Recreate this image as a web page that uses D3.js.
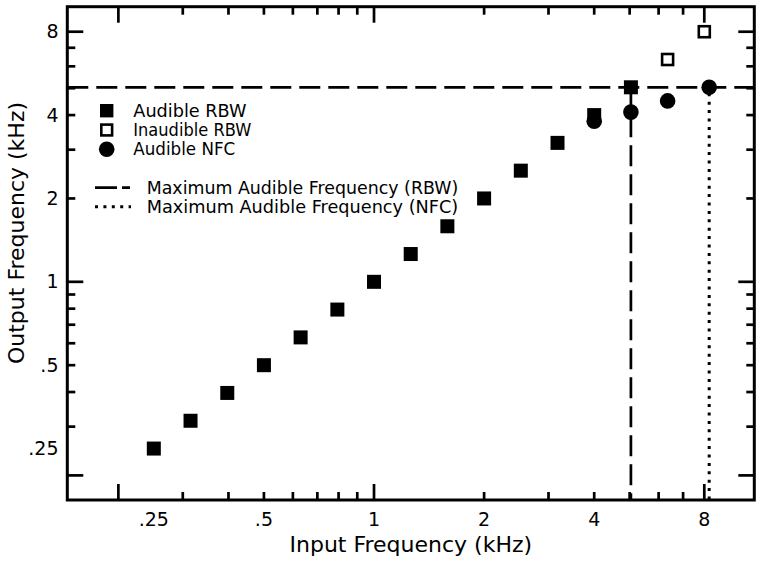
<!DOCTYPE html>
<html><head><meta charset="utf-8">
<script src="https://cdn.jsdelivr.net/npm/d3@7"></script>
<style>
body{margin:0;background:#fff}
svg{display:block}
text{font-family:"DejaVu Sans",sans-serif;fill:#000}
</style>
</head><body>
<svg id="c" width="764" height="562"></svg>
<script>
// ---- data (kHz) ----
const audibleRBWIn  = [0.25,0.315,0.397,0.5,0.63,0.794,1,1.26,1.587,2,2.52,3.175,4,5.04];
const audibleRBWOut = [0.25,0.315,0.397,0.5,0.63,0.794,1,1.26,1.587,2,2.52,3.175,4,5.04];
const inaudibleRBWIn  = [6.35,8];
const inaudibleRBWOut = [6.35,8];
const audibleNFCIn  = [4,5.04,6.35,8.25];
const audibleNFCOut = [3.8,4.1,4.5,5.04];
const maxAudibleOut = 5.04;   // maximum audible output frequency
const maxRBWIn = 5.04;        // RBW input at limit
const maxNFCIn = 8.25;        // NFC input at limit
const tickValues = [0.2,0.3,0.4,0.5,0.6,0.7,0.8,0.9,1,2,3,4,5,6,7,8];
const majorTickValues = [0.2,1,8];
const labelValues = [0.25,0.5,1,2,4,8];
const labelTexts  = [".25",".5","1","2","4","8"];
const xDomain = [0.145,10.96];
const yDomain = [0.163,9.85];
const legendMarkers = ["Audible RBW","Inaudible RBW","Audible NFC"];
const legendLines = ["Maximum Audible Frequency (RBW)","Maximum Audible Frequency (NFC)"];

// ---- layout ----
const L=67.3, R=754.3, T=6.7, B=500;
const svg=d3.select("#c");
const x=d3.scaleLog().domain(xDomain).range([L,R]);
const y=d3.scaleLog().domain(yDomain).range([B,T]);
const SW=2.7, DASH="21 8", DOT="3 5.4";

// reference lines
svg.append("line").attr("x1",L).attr("x2",R).attr("y1",y(maxAudibleOut)).attr("y2",y(maxAudibleOut))
  .attr("stroke","#000").attr("stroke-width",SW).attr("stroke-dasharray",DASH);
svg.append("line").attr("x1",x(maxRBWIn)).attr("x2",x(maxRBWIn)).attr("y1",y(maxAudibleOut)).attr("y2",B)
  .attr("stroke","#000").attr("stroke-width",SW).attr("stroke-dasharray",DASH);
svg.append("line").attr("x1",x(maxNFCIn)).attr("x2",x(maxNFCIn)).attr("y1",y(maxAudibleOut)+6).attr("y2",B)
  .attr("stroke","#000").attr("stroke-width",3).attr("stroke-dasharray",DOT);

// frame + ticks
svg.append("rect").attr("x",L).attr("y",T).attr("width",R-L).attr("height",B-T)
  .attr("fill","none").attr("stroke","#000").attr("stroke-width",3);
const tl=v=>majorTickValues.includes(v)?16:8;
const tg=svg.append("g").attr("stroke","#000").attr("stroke-width",SW);
tickValues.forEach(v=>{
  tg.append("line").attr("x1",x(v)).attr("x2",x(v)).attr("y1",B).attr("y2",B-tl(v));
  tg.append("line").attr("x1",x(v)).attr("x2",x(v)).attr("y1",T).attr("y2",T+tl(v));
  tg.append("line").attr("y1",y(v)).attr("y2",y(v)).attr("x1",L).attr("x2",L+tl(v));
  tg.append("line").attr("y1",y(v)).attr("y2",y(v)).attr("x1",R).attr("x2",R-tl(v));
});
// tick labels
labelValues.forEach((v,i)=>{
  svg.append("text").attr("x",x(v)).attr("y",526).attr("text-anchor","middle")
    .attr("font-size",19).text(labelTexts[i]);
  svg.append("text").attr("x",58.5).attr("y",y(v)).attr("dy","0.35em").attr("text-anchor","end")
    .attr("font-size",19).text(labelTexts[i]);
});
// axis titles
svg.append("text").attr("x",(L+R)/2).attr("y",551.5).attr("text-anchor","middle")
  .attr("font-size",22).text("Input Frequency (kHz)");
svg.append("text").attr("transform","translate(24,233) rotate(-90)").attr("text-anchor","middle")
  .attr("font-size",22).text("Output Frequency (kHz)");

// data points
const SQ=14, OS=11, CR=7.8;
svg.append("g").selectAll("rect").data(audibleRBWIn.map((v,i)=>[v,audibleRBWOut[i]])).join("rect")
  .attr("x",d=>x(d[0])-SQ/2).attr("y",d=>y(d[1])-SQ/2).attr("width",SQ).attr("height",SQ).attr("fill","#000");
svg.append("g").selectAll("circle").data(audibleNFCIn.map((v,i)=>[v,audibleNFCOut[i]])).join("circle")
  .attr("cx",d=>x(d[0])).attr("cy",d=>y(d[1])).attr("r",CR).attr("fill","#000");
svg.append("g").selectAll("rect").data(inaudibleRBWIn.map((v,i)=>[v,inaudibleRBWOut[i]])).join("rect")
  .attr("x",d=>x(d[0])-OS/2).attr("y",d=>y(d[1])-OS/2).attr("width",OS).attr("height",OS)
  .attr("fill","#fff").attr("stroke","#000").attr("stroke-width",2.6);

// legend
const lg=svg.append("g");
const ly=[110.7,130,149.3];
const lw=[113.3,118,102];
lg.append("rect").attr("x",106.7-6.7).attr("y",ly[0]-6.7).attr("width",13.4).attr("height",13.4).attr("fill","#000");
lg.append("rect").attr("x",106.7-5.4).attr("y",ly[1]-5.4).attr("width",10.8).attr("height",10.8)
  .attr("fill","#fff").attr("stroke","#000").attr("stroke-width",2.6);
lg.append("circle").attr("cx",106.7).attr("cy",ly[2]).attr("r",7.8).attr("fill","#000");
legendMarkers.forEach((t,i)=>{
  lg.append("text").attr("x",133.3).attr("y",ly[i]).attr("dy","0.36em").attr("font-size",17)
    .attr("textLength",lw[i]).attr("lengthAdjust","spacingAndGlyphs").text(t);
});
const lly=[187.7,206.7];
lg.append("line").attr("x1",95).attr("x2",130).attr("y1",lly[0]).attr("y2",lly[0])
  .attr("stroke","#000").attr("stroke-width",SW).attr("stroke-dasharray","22 5");
lg.append("line").attr("x1",95).attr("x2",131).attr("y1",lly[1]).attr("y2",lly[1])
  .attr("stroke","#000").attr("stroke-width",3).attr("stroke-dasharray",DOT);
legendLines.forEach((t,i)=>{
  lg.append("text").attr("x",146.7).attr("y",lly[i]).attr("dy","0.36em").attr("font-size",17)
    .attr("textLength",311.6).attr("lengthAdjust","spacingAndGlyphs").text(t);
});
</script>
</body></html>
